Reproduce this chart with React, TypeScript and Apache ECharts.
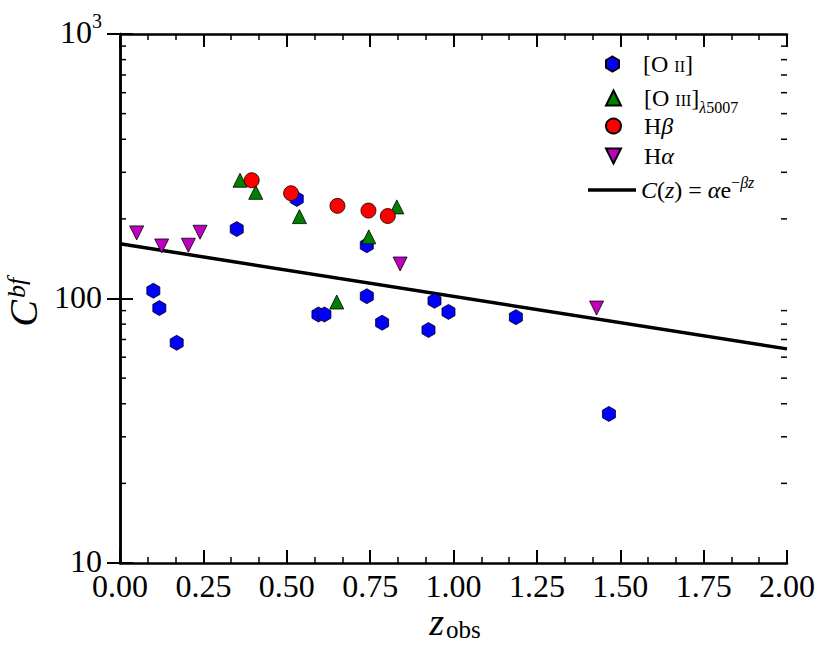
import React, { useEffect, useRef } from 'react';
import * as echarts from 'echarts';

// [O II]
const oiiZ = [0.100, 0.118, 0.170, 0.350, 0.530, 0.595, 0.613, 0.740, 0.740, 0.786, 0.925, 0.943, 0.985, 1.187, 1.466];
const oiiC = [107, 92, 68, 183, 238, 87, 87, 159, 102, 81, 76, 98, 89, 85, 36.6];
// [O III] 5007
const oiiiZ = [0.360, 0.407, 0.538, 0.650, 0.746, 0.830];
const oiiiC = [280, 252, 204, 97, 171, 222];
// H beta
const hbZ = [0.395, 0.513, 0.652, 0.745, 0.803];
const hbC = [280, 250, 224, 215, 205];
// H alpha
const haZ = [0.050, 0.125, 0.205, 0.240, 0.840, 1.429];
const haC = [177, 158, 159, 178, 135, 92];
// fitted line C(z) = alpha e^{-beta z}, endpoints
const fitZ = [0, 2];
const fitC = [161, 64.5];
// y minor tick values (log axis)
const yMinor = [20, 30, 40, 50, 60, 70, 80, 90, 200, 300, 400, 500, 600, 700, 800, 900];

const FONT = "'Liberation Serif', 'DejaVu Serif', serif";
const HEX = 'path://M0,-1L0.866,-0.5L0.866,0.5L0,1L-0.866,0.5L-0.866,-0.5Z';
const TRI_DOWN = 'path://M0,0L2,0L1,2Z';

const zip = (a: number[], b: number[]) => a.map((v, i) => [v, b[i]]);

const legendLabels: Record<string, string> = {
  OII: '{a|[O }{sc|II}{t|]}',
  OIII: '{a|[O }{sc|III}{t|]}{subi|λ}{sub|5007}',
  Hb: '{a|H}{it|β}',
  Ha: '{a|H}{it|α}',
  fit: '{it|C}{t|(}{it|z}{t|) = }{it|α}{t|e}{sup|−}{supi|βz}',
};

const base = { fontFamily: FONT, color: '#000', lineHeight: 30 };
const legendRich = {
  t: { ...base, fontSize: 24 },
  a: { ...base, fontSize: 24, padding: [0, 0, 0, 18] },
  it: { ...base, fontSize: 24, fontStyle: 'italic' },
  sc: { ...base, fontSize: 16, padding: [5, 0, 0, 0] },
  sub: { ...base, fontSize: 16, padding: [18, 0, 0, 0] },
  subi: { ...base, fontSize: 16, padding: [18, 0, 0, 0], fontStyle: 'italic' },
  sup: { ...base, fontSize: 16, padding: [0, 0, 16, 0] },
  supi: { ...base, fontSize: 16, padding: [0, 0, 16, 0], fontStyle: 'italic' },
};

const legendRows: { name: string; top: number; left: number; icon?: string; w: number; h: number }[] = [
  { name: 'OII', top: 52, left: 605, w: 15, h: 15 },
  { name: 'OIII', top: 81, left: 605, w: 15, h: 15 },
  { name: 'Hb', top: 114, left: 605, w: 15, h: 15 },
  { name: 'Ha', top: 144, left: 605, w: 15, h: 15 },
  { name: 'fit', top: 174, left: 588, icon: 'rect', w: 48, h: 3.5 },
];

export default function App() {
  const ref = useRef<HTMLDivElement>(null);
  useEffect(() => {
    if (!ref.current) return;
    const chart = echarts.init(ref.current, null, { renderer: 'svg' });
    const axisLine = { show: true, lineStyle: { color: '#000', width: 2.5 } };
    const majorTick = { show: true, inside: true, length: 13, lineStyle: { color: '#000', width: 2 } };
    const minorTick = { show: true, splitNumber: 3, length: 6, lineStyle: { color: '#000', width: 1.5 } };
    const scatterStyle = { borderColor: '#000', borderWidth: 0.8, opacity: 1 };
    chart.setOption({
      animation: false,
      backgroundColor: '#fff',
      grid: { left: 120, right: 43, top: 34, bottom: 96, containLabel: false, outerBoundsMode: 'none' },
      graphic: [
        {
          type: 'group', z: 100,
          children: [
            {
              type: 'text', x: 444, y: 622,
              style: {
                text: 'z', fontFamily: 'Liberation Serif', fontStyle: 'italic', fontSize: 38,
                fill: '#000', align: 'right', verticalAlign: 'middle',
              },
            },
            {
              type: 'text', x: 446, y: 629,
              style: {
                text: 'obs', fontFamily: 'Liberation Serif', fontSize: 25,
                fill: '#000', align: 'left', verticalAlign: 'middle',
              },
            },
          ],
        },
        {
          type: 'group', x: 24, y: 298, rotation: Math.PI / 2, z: 100,
          children: [
            {
              type: 'text', x: -2, y: -1,
              style: {
                text: 'C', fontFamily: 'Liberation Serif', fontStyle: 'italic', fontSize: 40,
                fill: '#000', align: 'right', verticalAlign: 'middle',
              },
            },
            {
              type: 'text', x: 0, y: -8,
              style: {
                text: 'bf', fontFamily: 'Liberation Serif', fontStyle: 'italic', fontSize: 26,
                fill: '#000', align: 'left', verticalAlign: 'middle',
              },
            },
          ],
        },
      ],
      xAxis: [
        {
          type: 'value', min: 0, max: 2, interval: 0.25, position: 'bottom',
          axisLine, axisTick: majorTick, minorTick, splitLine: { show: false },
          axisLabel: {
            color: '#000', fontFamily: FONT, fontSize: 32, lineHeight: 24, margin: 11,
            formatter: (v: number) => v.toFixed(2),
          },
        },
        {
          type: 'value', min: 0, max: 2, interval: 0.25, position: 'top',
          axisLine, axisTick: majorTick, minorTick, splitLine: { show: false },
          axisLabel: { show: false },
        },
      ],
      yAxis: [
        {
          type: 'log', logBase: 10, min: 10, max: 1000, position: 'left',
          axisLine, axisTick: majorTick, splitLine: { show: false },
          axisLabel: {
            color: '#000', fontFamily: FONT, fontSize: 32, margin: 18,
            formatter: (v: number) => {
              const r = Math.round(v);
              return r === 1000 ? '{n|10}{p|3}' : '{n|' + r + '}';
            },
            rich: {
              n: { fontFamily: FONT, fontSize: 32, color: '#000', lineHeight: 18, padding: [0, 0, 4, 0] },
              p: { fontFamily: FONT, fontSize: 20, color: '#000', lineHeight: 18, padding: [0, 0, 26, 0] },
            },
          },
        },
        {
          type: 'log', logBase: 10, min: 10, max: 1000, position: 'right',
          axisLine, axisTick: majorTick, splitLine: { show: false },
          axisLabel: { show: false },
        },
      ],
      legend: legendRows.map((r) => ({
        data: [r.icon ? { name: r.name, icon: r.icon } : { name: r.name }],
        orient: 'vertical', left: r.left, top: r.top, padding: 0,
        itemWidth: r.w, itemHeight: r.h, itemGap: 0, selectedMode: false,
        formatter: (name: string) => legendLabels[name],
        textStyle: { rich: legendRich },
      })),
      series: [
        {
          name: 'fit', type: 'line', data: zip(fitZ, fitC), symbol: 'none', z: 2,
          lineStyle: { color: '#000', width: 3.5 }, itemStyle: { color: '#000' },
        },
        {
          name: 'OII', type: 'scatter', data: zip(oiiZ, oiiC), symbol: HEX, symbolSize: [13, 15], z: 3,
          itemStyle: { color: '#0000ff', ...scatterStyle },
        },
        {
          name: 'OIII', type: 'scatter', data: zip(oiiiZ, oiiiC), symbol: 'triangle', symbolSize: 14, z: 4,
          itemStyle: { color: '#008000', ...scatterStyle },
        },
        {
          name: 'Hb', type: 'scatter', data: zip(hbZ, hbC), symbol: 'circle', symbolSize: 15, z: 5,
          itemStyle: { color: '#ff0000', ...scatterStyle },
        },
        {
          name: 'Ha', type: 'scatter', data: zip(haZ, haC), symbol: TRI_DOWN, symbolSize: 14, z: 6,
          itemStyle: { color: '#bf00bf', ...scatterStyle },
        },
        {
          name: 'yMinorTicks', type: 'custom', silent: true, z: 10,
          data: yMinor.map((v) => [0, v]),
          encode: { x: 0, y: 1 },
          renderItem: (params: any, api: any) => {
            const p = api.coord([0, api.value(1)]);
            const cs = params.coordSys;
            const st = { stroke: '#000', lineWidth: 1.5 };
            return {
              type: 'group',
              children: [
                { type: 'line', shape: { x1: cs.x, y1: p[1], x2: cs.x + 6, y2: p[1] }, style: st },
                { type: 'line', shape: { x1: cs.x + cs.width - 6, y1: p[1], x2: cs.x + cs.width, y2: p[1] }, style: st },
              ],
            };
          },
        },
      ],
    });
    return () => chart.dispose();
  }, []);
  return (
    <div
      ref={ref}
      style={{ position: 'fixed', left: 0, top: 0, width: 830, height: 659, background: '#fff' }}
    />
  );
}
